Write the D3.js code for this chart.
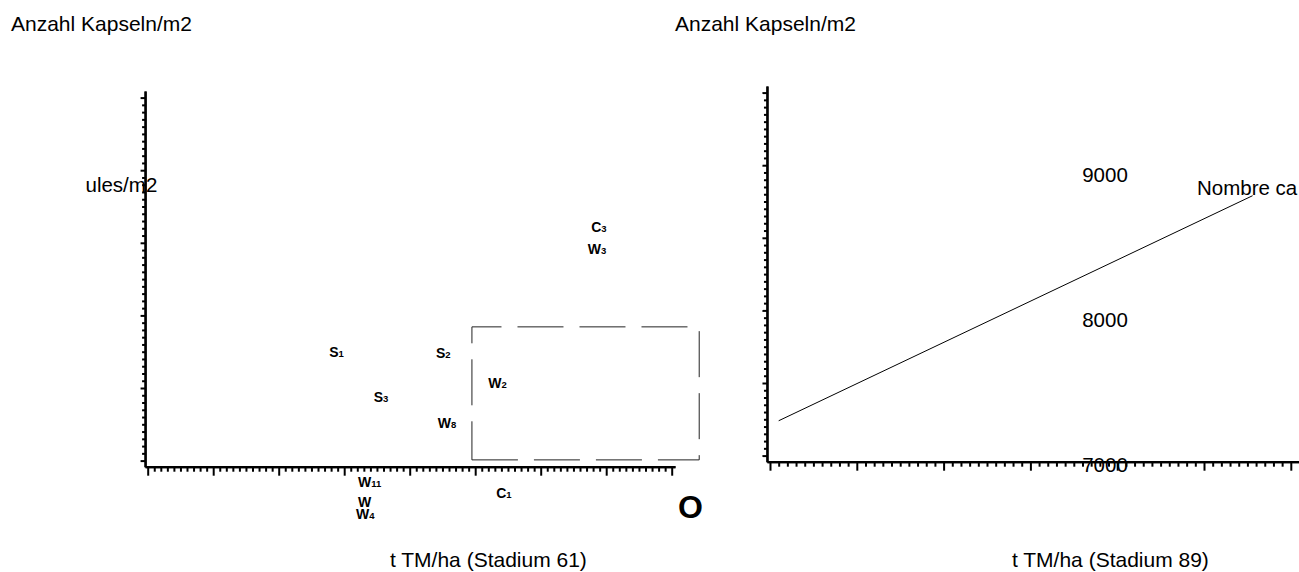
<!DOCTYPE html>
<html><head><meta charset="utf-8">
<script src="https://cdn.jsdelivr.net/npm/d3@7"></script>
<style>
body{margin:0;background:#fff}
svg{display:block}
text{font-family:"Liberation Sans",Arial,Helvetica,sans-serif;fill:#000}
</style>
</head><body>
<svg id="c" width="1299" height="572"></svg>
<script>
// ---- data ----
const pointNames = ["S","S","S","W","W","C","W","W","W","W","C"];
const pointSubs  = ["1","2","3","2","8","3","3","11","","4","1"];
const pointX     = [2.77,4.40,3.45,5.20,4.43,6.77,6.72,3.21,3.21,3.18,5.32];
const pointY     = [7714,7707,7404,7501,7225,8575,8424,6819,6681,6598,6743];
const boxX = [4.95, 8.42];
const boxY = [7005, 7921];
const lineX = [0.1, 5.56];
const lineY = [7240, 8790];
const rightTickLabels = [7000, 8000, 9000];
const yTitle = "Anzahl Kapseln/m2";
const leftXTitle = "t TM/ha (Stadium 61)";
const rightXTitle = "t TM/ha (Stadium 89)";
const leftYLabel = "ules/m2";
const rightSeriesLabel = "Nombre ca";
const cornerMark = "O";

// ---- scales ----
const svg = d3.select("#c");
const pxPerUnitL = 65.5, pxPerUnitR = 86.8, pxPer1000 = 145.2;
const xL = d3.scaleLinear().domain([-0.04, 8.05]).range([147.7 - 0.04*pxPerUnitL, 147.7 + 8.05*pxPerUnitL]);
const yL = d3.scaleLinear().domain([6958, 9545]).range([466.7, 466.7 - 2.587*pxPer1000]);
const xR = d3.scaleLinear().domain([-0.035, 6.12]).range([770 - 0.035*pxPerUnitR, 770 + 6.12*pxPerUnitR]);
const yR = d3.scaleLinear().domain([6958, 9545]).range([461.7, 461.7 - 2.587*pxPer1000]);

const minorX8 = d3.range(0, 81).map(i => i/10);
const majorX8 = d3.range(0, 9);
const minorX6 = d3.range(0, 61).map(i => i/10);
const majorX6 = d3.range(0, 7);
const minorY = d3.range(7000, 9501, 50);
const majorY = d3.range(7000, 9501, 500);

function drawAxes(g, x, y, minX, majX) {
  const ax = g.append("g").attr("transform", `translate(0,${y.range()[0]})`);
  ax.call(d3.axisBottom(x).tickValues(minX.filter(v => !majX.includes(v))).tickSize(5).tickSizeOuter(0).tickFormat(""));
  ax.call(g2 => g2.append("g").call(d3.axisBottom(x).tickValues(majX).tickSize(9).tickSizeOuter(0).tickFormat("")));
  const ay = g.append("g").attr("transform", `translate(${x.range()[0]},0)`);
  ay.call(d3.axisLeft(y).tickValues(minorY.filter(v => !majorY.includes(v))).tickSize(3).tickSizeOuter(0).tickFormat(""));
  ay.call(g2 => g2.append("g").call(d3.axisLeft(y).tickValues(majorY).tickSize(4.5).tickSizeOuter(0).tickFormat("")));
  g.selectAll(".domain").attr("stroke", "#000").attr("stroke-width", 2.2);
  g.selectAll(".tick line").attr("stroke", "#000").attr("stroke-width", 2);
}

const gl = svg.append("g");
drawAxes(gl, xL, yL, minorX8, majorX8);
const gr = svg.append("g");
drawAxes(gr, xR, yR, minorX6, majorX6);

// ---- left panel marks ----
gl.append("path")
  .attr("d", `M${xL(boxX[0])},${yL(boxY[0])}H${xL(boxX[1])}V${yL(boxY[1])}H${xL(boxX[0])}Z`)
  .attr("fill", "none").attr("stroke", "#222").attr("stroke-width", 1)
  .attr("stroke-dasharray", "46,16");

const lbl = gl.selectAll("text.pt").data(pointNames.map((n,i)=>({n, s: pointSubs[i], x: pointX[i], y: pointY[i]})))
  .join("text").attr("class","pt")
  .attr("x", d => xL(d.x)).attr("y", d => yL(d.y))
  .attr("font-size", 14).attr("font-weight", "bold");
lbl.append("tspan").text(d => d.n);
lbl.append("tspan").attr("font-size", 9.5).text(d => d.s);

// ---- right panel line ----
gr.append("path")
  .attr("d", d3.line().x(d => xR(d[0])).y(d => yR(d[1]))(lineX.map((v,i)=>[v, lineY[i]])))
  .attr("fill","none").attr("stroke","#000").attr("stroke-width",1);

gr.selectAll("text.tl").data(rightTickLabels).join("text").attr("class","tl")
  .attr("x", 1105).attr("y", d => yR(d) + 16.5)
  .attr("text-anchor","middle").attr("font-size", 20.5).text(d => d);

// ---- texts ----
svg.append("text").attr("x", 11).attr("y", 31).attr("font-size", 21).text(yTitle);
svg.append("text").attr("x", 675).attr("y", 31).attr("font-size", 21).text(yTitle);
svg.append("text").attr("x", 85.5).attr("y", 192).attr("font-size", 20.5).text(leftYLabel);
svg.append("text").attr("x", 1197).attr("y", 195).attr("font-size", 20.5).text(rightSeriesLabel);
svg.append("text").attr("x", 390).attr("y", 567).attr("font-size", 21).text(leftXTitle);
svg.append("text").attr("x", 1012).attr("y", 567).attr("font-size", 21).text(rightXTitle);
svg.append("text").attr("x", 678).attr("y", 518).attr("font-size", 32).attr("font-weight","bold").text(cornerMark);
</script>
</body></html>
